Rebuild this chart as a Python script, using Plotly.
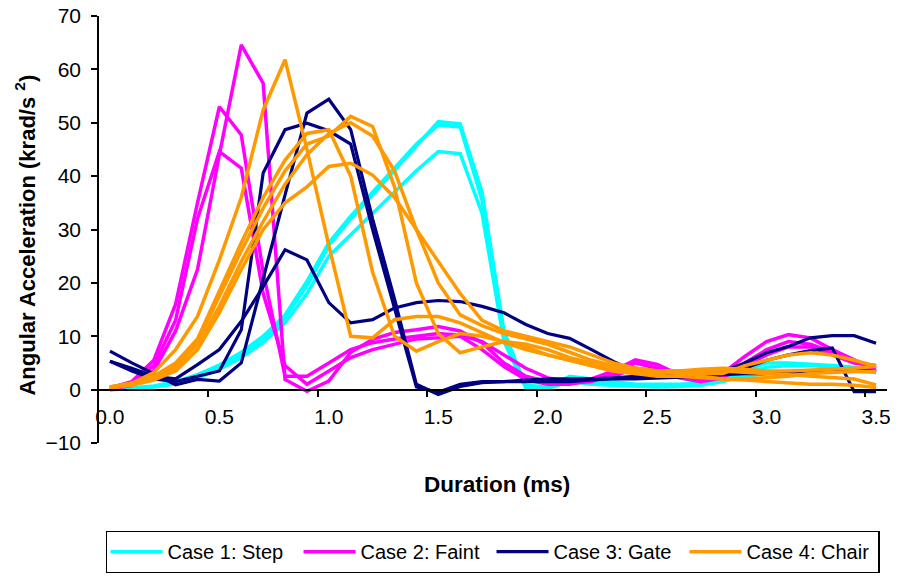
import plotly.graph_objects as go

# Sample times (ms), one category every 0.1 ms
duration_ms = [0.0, 0.1, 0.2, 0.3, 0.4, 0.5, 0.6, 0.7, 0.8, 0.9,
               1.0, 1.1, 1.2, 1.3, 1.4, 1.5, 1.6, 1.7, 1.8, 1.9,
               2.0, 2.1, 2.2, 2.3, 2.4, 2.5, 2.6, 2.7, 2.8, 2.9,
               3.0, 3.1, 3.2, 3.3, 3.4, 3.5]

# Case 1: Step (three trials)
step_1 = [0.0, 0.2, 0.6, 1.3, 2.5, 4.2, 6.5, 9.5, 13.5, 19.5, 27.0, 32.0, 36.5, 41.0, 45.5, 50.2, 49.8, 37.0, 11.0, 0.5,
          0.3, 2.5, 2.0, 1.5, 1.0, 1.0, 1.0, 1.2, 2.0, 3.5, 5.0, 5.0, 4.8, 4.5, 4.2, 3.8]
step_2 = [0.0, 0.3, 0.7, 1.5, 2.8, 4.6, 7.0, 10.0, 14.0, 20.3, 27.5, 32.5, 37.0, 41.5, 46.0, 49.6, 49.2, 35.5, 10.0, 0.8,
          0.5, 1.8, 1.5, 1.2, 0.8, 0.8, 0.9, 1.0, 1.8, 3.0, 4.2, 4.5, 4.5, 4.2, 4.0, 3.5]
step_3 = [0.0, 0.2, 0.5, 1.1, 2.2, 3.8, 6.0, 8.8, 12.5, 18.0, 25.0, 29.0, 33.0, 37.0, 41.0, 44.6, 44.2, 33.0, 9.0, 0.3,
          0.2, 1.5, 1.0, 0.8, 0.6, 0.5, 0.6, 0.8, 1.5, 2.5, 3.0, 3.0, 3.2, 3.5, 3.5, 3.2]

# Case 2: Faint
faint_1 = [0.3, 1.5, 5.5, 16.0, 35.0, 53.0, 47.7, 22.0, 2.5, 2.5, 5.0, 7.5, 8.8, 9.5, 10.0, 10.5, 10.2, 9.0, 6.5, 4.0,
           2.2, 1.5, 2.0, 3.5, 5.6, 4.7, 2.8, 1.5, 3.1, 6.2, 9.0, 10.3, 9.7, 7.5, 5.6, 3.4]
faint_2 = [0.0, 0.8, 3.5, 11.0, 22.5, 44.0, 64.6, 57.4, 1.9, -0.3, 1.6, 7.0, 9.4, 10.7, 11.2, 11.8, 11.0, 8.8, 5.0, 2.5,
           1.5, 1.2, 1.5, 3.0, 5.0, 4.0, 2.5, 1.8, 2.5, 5.0, 7.5, 9.0, 8.5, 7.0, 5.5, 4.0]
faint_3 = [0.2, 1.2, 4.5, 13.0, 32.0, 44.6, 41.5, 18.0, 4.5, 1.0, 3.5, 6.0, 7.5, 8.5, 9.5, 9.7, 10.0, 7.5, 4.3, 1.9,
           1.0, 1.0, 1.8, 2.5, 4.0, 3.5, 2.2, 1.5, 2.2, 4.5, 6.5, 8.0, 8.0, 6.5, 5.0, 4.5]

# Case 3: Gate
gate_1 = [7.2, 5.0, 3.0, 0.9, 1.9, 1.6, 5.0, 21.0, 36.5, 51.8, 54.4, 48.7, 32.0, 17.0, 1.0, -0.9, 0.6, 1.3, 1.5, 1.5,
          1.5, 1.5, 1.8, 2.0, 2.0, 2.2, 2.3, 2.5, 3.0, 4.0, 5.5, 6.5, 7.3, 7.8, -0.4, -0.4]
gate_2 = [5.3, 4.0, 2.5, 2.0, 4.7, 7.5, 12.8, 19.3, 26.2, 24.3, 16.3, 12.5, 13.1, 15.3, 16.3, 16.7, 16.5, 15.6, 14.4, 12.2,
          10.5, 9.6, 7.5, 5.3, 3.4, 2.8, 2.5, 2.5, 3.4, 5.0, 6.9, 8.1, 9.7, 10.1, 10.1, 8.7]
gate_3 = [5.3, 3.5, 2.0, 1.5, 2.5, 3.5, 11.2, 40.6, 48.7, 49.9, 48.5, 46.0, 30.0, 15.0, 0.5, -0.5, 1.0, 1.5, 1.5, 1.8,
          2.0, 2.0, 2.0, 2.2, 2.5, 2.5, 2.5, 2.5, 2.8, 3.0, 3.0, 3.2, 3.5, 3.5, 3.8, 3.4]

# Case 4: Chair
chair_1 = [0.5, 1.2, 3.2, 7.5, 13.7, 24.3, 36.0, 52.4, 61.8, 45.0, 27.0, 10.0, 9.7, 13.1, 13.7, 13.7, 12.5, 10.7, 8.8, 7.5,
           6.5, 5.5, 4.5, 3.5, 3.0, 3.0, 3.2, 3.5, 3.5, 3.2, 3.0, 2.8, 2.5, 2.2, 2.0, 0.9]
chair_2 = [0.5, 1.2, 2.5, 5.0, 9.5, 18.7, 27.5, 36.0, 43.0, 48.0, 48.7, 40.0, 22.0, 10.0, 7.2, 9.0, 10.5, 10.0, 9.0, 8.0,
           6.5, 5.5, 4.5, 3.5, 3.0, 2.5, 2.5, 2.2, 2.0, 1.8, 1.5, 1.2, 1.0, 1.0, 0.8, 0.4]
chair_3 = [0.5, 1.0, 2.2, 4.5, 9.0, 17.5, 26.0, 34.0, 41.0, 46.0, 47.5, 51.2, 49.3, 38.0, 20.0, 10.5, 6.9, 8.0, 9.0, 8.5,
           7.5, 6.0, 5.0, 4.0, 3.5, 3.5, 3.5, 3.8, 4.0, 3.8, 3.5, 3.5, 3.7, 3.8, 4.0, 4.4]
chair_4 = [0.4, 1.0, 2.0, 4.2, 8.5, 15.6, 24.0, 31.5, 38.5, 44.0, 48.0, 50.0, 47.5, 41.0, 30.0, 20.0, 14.0, 12.0, 10.5, 9.5,
           8.5, 7.0, 5.5, 4.5, 4.0, 3.5, 3.0, 2.5, 2.0, 2.0, 2.2, 2.5, 3.0, 3.2, 3.4, 3.4]
chair_5 = [0.3, 0.8, 1.8, 3.5, 7.5, 14.4, 22.5, 30.0, 35.0, 38.0, 41.8, 42.4, 40.2, 36.0, 30.0, 24.0, 18.0, 13.0, 11.0, 10.0,
           9.0, 8.0, 6.5, 5.0, 4.0, 3.5, 3.5, 3.0, 3.0, 4.5, 5.5, 6.5, 6.9, 6.5, 5.5, 4.4]

cases = [
    ("Case 1: Step", "#00FFFF", 3.5, [step_1, step_2, step_3]),
    ("Case 2: Faint", "#FF00FF", 3.5, [faint_1, faint_2, faint_3]),
    ("Case 3: Gate", "#000080", 3.2, [gate_1, gate_2, gate_3]),
    ("Case 4: Chair", "#FF9900", 3.5, [chair_1, chair_2, chair_3, chair_4, chair_5]),
]

x_tick_vals = [0.0, 0.5, 1.0, 1.5, 2.0, 2.5, 3.0, 3.5]
x_tick_text = ["0.0", "0.5", "1.0", "1.5", "2.0", "2.5", "3.0", "3.5"]
y_tick_vals = [-10, 0, 10, 20, 30, 40, 50, 60, 70]

FONT = "Arial, 'Liberation Sans', sans-serif"

fig = go.Figure()
for name, color, width, trials in cases:
    for i, values in enumerate(trials):
        fig.add_trace(go.Scatter(
            x=duration_ms, y=values, mode="lines", name=name,
            legendgroup=name, showlegend=(i == 0),
            line=dict(color=color, width=width),
        ))

# Category-style axis: labels sit under each category, tick marks on the boundaries
x_range = [-0.05, 3.55]
y_range = [-10, 70]
zero_pos = (0 - y_range[0]) / (y_range[1] - y_range[0])
boundary_ticks = [v - 0.05 for v in x_tick_vals[1:]]

fig.update_layout(
    width=898, height=577,
    margin=dict(l=99, r=11, t=16, b=134, autoexpand=False),
    paper_bgcolor="white", plot_bgcolor="white",
    font=dict(family=FONT, size=21, color="black"),
    xaxis=dict(
        range=x_range, anchor="free", position=zero_pos,
        tickvals=x_tick_vals, ticktext=x_tick_text, ticks="",
        showline=True, linecolor="black", linewidth=1.5,
        showgrid=False, zeroline=False,
        tickfont=dict(size=21), ticklabelstandoff=8,
    ),
    xaxis2=dict(
        range=x_range, overlaying="x", anchor="free", position=zero_pos,
        tickvals=boundary_ticks, ticks="outside", ticklen=6, tickwidth=1.5,
        tickcolor="black", showticklabels=False, showline=False,
        showgrid=False, zeroline=False,
    ),
    yaxis=dict(
        range=y_range, tickvals=y_tick_vals, ticks="outside", ticklen=6,
        tickwidth=1.5, tickcolor="black",
        showline=True, linecolor="black", linewidth=1.5,
        showgrid=False, zeroline=False, tickfont=dict(size=21),
        ticklabelstandoff=6,
    ),
    legend=dict(
        orientation="h", x=0.4994, xanchor="center", y=-0.206, yanchor="top",
        bordercolor="black", borderwidth=1.2, font=dict(size=20),
        itemwidth=52, entrywidth=126, tracegroupgap=0,
    ),
    annotations=[
        dict(text="<b>Duration (ms)</b>", xref="paper", yref="paper",
             x=0.505, y=-0.098, xanchor="center", yanchor="middle",
             showarrow=False, font=dict(size=22.5)),
        dict(text="<b>Angular Acceleration (krad/s <sup>2</sup>)</b>", xref="paper", yref="paper",
             x=-0.0933, y=0.487, xanchor="center", yanchor="middle", textangle=-90,
             showarrow=False, font=dict(size=22)),
    ],
)

# Empty trace on the overlay axis so its tick marks are drawn
fig.add_trace(go.Scatter(x=[None], y=[None], xaxis="x2", showlegend=False, hoverinfo="skip"))

fig.write_html("out.html")
